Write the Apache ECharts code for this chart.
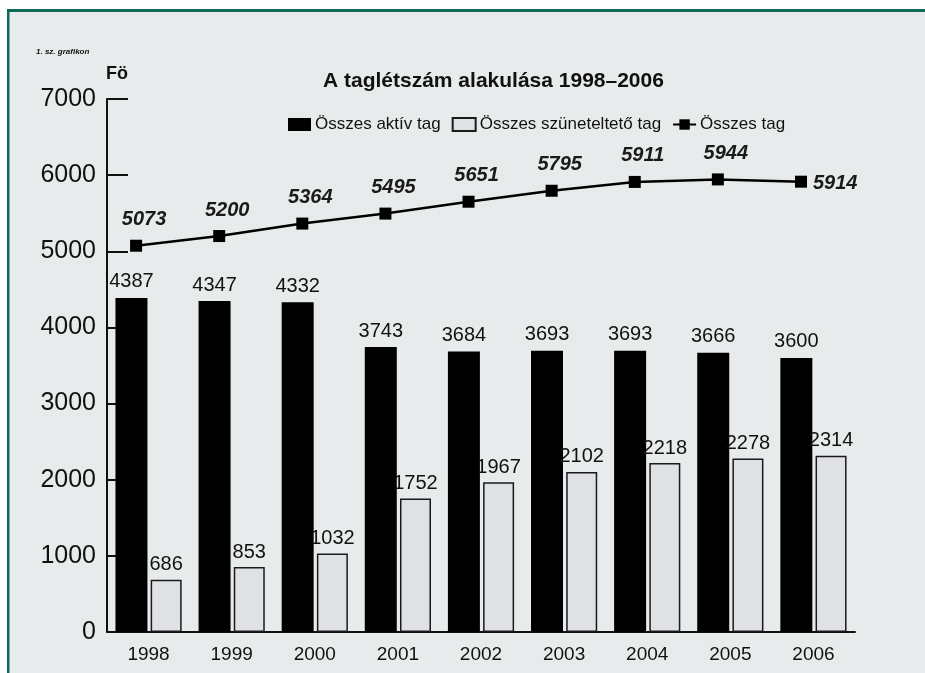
<!DOCTYPE html>
<html>
<head>
<meta charset="utf-8">
<script src="https://cdn.jsdelivr.net/npm/echarts@6/dist/echarts.min.js"></script>
<style>
html,body{margin:0;padding:0;background:#fff;}
#main{width:925px;height:673px;}
</style>
</head>
<body>
<div id="main"></div>
<script>
const years = ['1998','1999','2000','2001','2002','2003','2004','2005','2006'];
const activeMembers = [4387, 4347, 4332, 3743, 3684, 3693, 3693, 3666, 3600];
const suspendedMembers = [686, 853, 1032, 1752, 1967, 2102, 2218, 2278, 2314];
const totalMembers = [5073, 5200, 5364, 5495, 5651, 5795, 5911, 5944, 5914];
const yTicks = {min: 0, max: 7000, interval: 1000};

const chart = echarts.init(document.getElementById('main'));
const FONT = '"Liberation Sans", Arial, sans-serif';
const lineData = totalMembers.map((v, i) => {
  const item = {value: [i + 0.35, v]};
  if (i === totalMembers.length - 1) {
    item.label = {position: 'right', offset: [0, 2], distance: 6};
  }
  return item;
});

chart.setOption({
  backgroundColor: '#ffffff',
  animation: false,
  textStyle: {fontFamily: FONT},
  graphic: [
    {type: 'rect', z: -10, shape: {x: 8, y: 9, width: 925, height: 673}, style: {fill: '#e8ebec'}},
    {type: 'rect', z: -9, shape: {x: 8, y: 9, width: 925, height: 3}, style: {fill: '#0b6b5a'}},
    {type: 'rect', z: -9, shape: {x: 7, y: 9, width: 2.5, height: 673}, style: {fill: '#0b6b5a'}},
    {type: 'text', left: 36, top: 48, style: {text: '1. sz. grafikon', font: 'italic bold 8px ' + FONT, fill: '#111'}},
    {type: 'text', left: 106, top: 65, style: {text: 'Fö', font: 'bold 18px ' + FONT, fill: '#111'}}
  ],
  title: {
    text: 'A taglétszám alakulása 1998–2006',
    left: 318, top: 66,
    textStyle: {fontFamily: FONT, fontWeight: 'bold', fontSize: 21, color: '#111'}
  },
  legend: {
    left: 283, top: 111,
    itemWidth: 23, itemHeight: 13, itemGap: 11,
    textStyle: {fontFamily: FONT, fontSize: 17, color: '#111', padding: [0, 0, 0, -1]},
    data: [
      {name: 'Összes aktív tag', icon: 'rect'},
      {name: 'Összes szüneteltető tag', icon: 'rect'},
      {name: 'Összes tag'}
    ]
  },
  grid: {left: 107, right: 70, top: 99, bottom: 41, containLabel: false},
  xAxis: [
    {
      type: 'category', data: years, boundaryGap: true,
      axisLine: {lineStyle: {color: '#111', width: 2}},
      axisTick: {inside: true, length: 13, lineStyle: {color: '#111', width: 2}},
      axisLabel: {fontFamily: FONT, fontSize: 19, color: '#111', margin: 13}
    },
    {type: 'value', min: 0, max: 9, show: false}
  ],
  yAxis: {
    type: 'value', min: yTicks.min, max: yTicks.max, interval: yTicks.interval,
    axisLine: {show: true, lineStyle: {color: '#111', width: 2}},
    axisTick: {show: true, inside: true, length: 21, lineStyle: {color: '#111', width: 2}},
    axisLabel: {fontFamily: FONT, fontSize: 25, color: '#111', margin: 11, formatter: v => String(v)},
    splitLine: {show: false}
  },
  series: [
    {
      name: 'Összes aktív tag', type: 'bar', data: activeMembers,
      barWidth: 32, barGap: '10%',
      itemStyle: {color: '#000', borderColor: '#000', borderWidth: 0},
      label: {show: true, position: 'top', distance: 6, fontFamily: FONT, fontSize: 20, color: '#111'}
    },
    {
      name: 'Összes szüneteltető tag', type: 'bar', data: suspendedMembers,
      barWidth: 31,
      itemStyle: {color: '#dfe1e4', borderColor: '#1a1a1a', borderWidth: 1.5},
      label: {show: true, position: 'top', distance: 5, fontFamily: FONT, fontSize: 20, color: '#111'}
    },
    {
      name: 'Összes tag', type: 'line', xAxisIndex: 1, data: lineData,
      symbol: 'rect', symbolSize: 12,
      lineStyle: {color: '#000', width: 2.5},
      itemStyle: {color: '#000'},
      label: {show: true, position: 'top', distance: 10, offset: [8, 0],
        fontFamily: FONT, fontSize: 20, fontWeight: 'bold', fontStyle: 'italic', color: '#1a1a1a'},
      z: 5
    }
  ]
});
</script>
</body>
</html>
